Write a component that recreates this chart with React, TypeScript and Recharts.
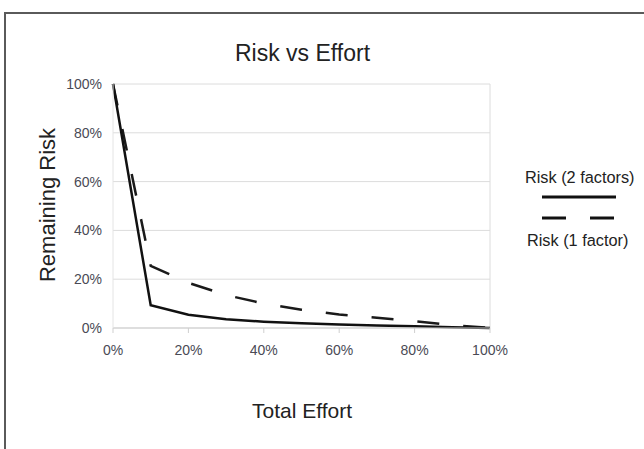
import React from "react";
import { LineChart, Line, XAxis, YAxis, CartesianGrid, ReferenceLine } from "recharts";

const effort = [0, 10, 20, 30, 40, 50, 60, 70, 80, 90, 100];
const risk2Factors = [100, 9.3, 5.4, 3.6, 2.6, 1.9, 1.4, 1.0, 0.7, 0.3, 0];
const risk1Factor = [100, 25.5, 18.5, 13.5, 10, 7.5, 5.5, 4.2, 2.8, 1.2, 0];
const xTicks = [0, 20, 40, 60, 80, 100];
const yTicks = [0, 20, 40, 60, 80, 100];
const title = "Risk vs Effort";
const xTitle = "Total Effort";
const yTitle = "Remaining Risk";
const series2Name = "Risk (2 factors)";
const series1Name = "Risk (1 factor)";

const data = effort.map((x, i) => ({ x, r2: risk2Factors[i], r1: risk1Factor[i] }));

const FONT = "'Liberation Sans', Arial, Helvetica, sans-serif";
const tickStyle = { fontFamily: FONT, fontSize: 14, fill: "#4a4a55" };
const pct = (v: number) => `${v}%`;

export default function App() {
  return (
    <div
      style={{
        position: "absolute",
        top: 0,
        left: 0,
        width: 644,
        height: 449,
        overflow: "hidden",
        background: "#fff",
      }}
    >
      <div
        style={{
          position: "absolute",
          left: 4,
          top: 12,
          width: 700,
          height: 500,
          borderTop: "2px solid #5a5a5a",
          borderLeft: "2px solid #5a5a5a",
          boxSizing: "border-box",
        }}
      />
      <div style={{ position: "absolute", left: 0, top: 0 }}>
        <LineChart
          width={644}
          height={449}
          data={data}
          margin={{ top: 84, right: 154, bottom: 91, left: 53 }}
        >
          <CartesianGrid vertical={false} stroke="#dcdcdc" />
          <ReferenceLine x={100} stroke="#dcdcdc" />
          <XAxis
            dataKey="x"
            type="number"
            domain={[0, 100]}
            ticks={xTicks}
            tickFormatter={pct}
            height={30}
            tick={tickStyle}
            axisLine={{ stroke: "#cfcfcf" }}
            tickLine={{ stroke: "#cfcfcf" }}
            tickSize={5}
            tickMargin={12}
          />
          <YAxis
            type="number"
            domain={[0, 100]}
            ticks={yTicks}
            tickFormatter={pct}
            width={60}
            tick={tickStyle}
            axisLine={{ stroke: "#e4e4e4" }}
            tickLine={false}
            tickSize={0}
            tickMargin={11}
          />
          <Line
            type="linear"
            dataKey="r1"
            stroke="#1a1a1a"
            strokeWidth={2.5}
            strokeDasharray="22 24"
            dot={false}
            activeDot={false}
            isAnimationActive={false}
          />
          <Line
            type="linear"
            dataKey="r2"
            stroke="#111"
            strokeWidth={2.5}
            dot={false}
            activeDot={false}
            isAnimationActive={false}
          />
        </LineChart>
      </div>
      <svg
        width={644}
        height={449}
        style={{ position: "absolute", left: 0, top: 0, pointerEvents: "none" }}
      >
        <text x={302.5} y={61} textAnchor="middle" fontFamily={FONT} fontSize={23} fill="#222">
          {title}
        </text>
        <text
          x={0}
          y={0}
          transform="translate(55,205) rotate(-90)"
          textAnchor="middle"
          fontFamily={FONT}
          fontSize={22}
          fill="#222"
        >
          {yTitle}
        </text>
        <text x={302} y={418} textAnchor="middle" fontFamily={FONT} fontSize={21} fill="#222">
          {xTitle}
        </text>
        <text x={525} y={183} fontFamily={FONT} fontSize={16.3} fill="#222">
          {series2Name}
        </text>
        <line x1={542} y1={197} x2={616} y2={197} stroke="#111" strokeWidth={3} />
        <line x1={542} y1={218} x2={566} y2={218} stroke="#111" strokeWidth={3} />
        <line x1={590} y1={218} x2={614} y2={218} stroke="#111" strokeWidth={3} />
        <text x={527} y={246} fontFamily={FONT} fontSize={16.3} fill="#222">
          {series1Name}
        </text>
      </svg>
    </div>
  );
}
